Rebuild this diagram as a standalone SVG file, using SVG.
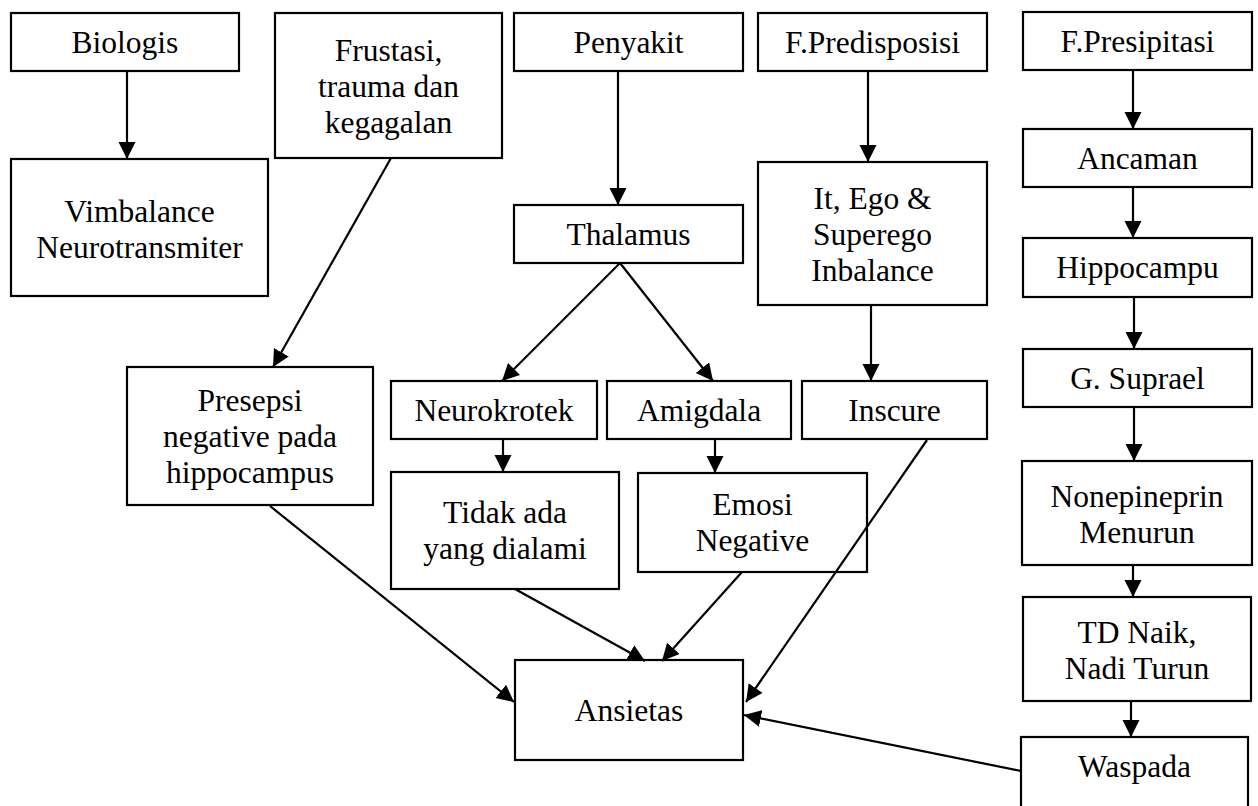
<svg xmlns="http://www.w3.org/2000/svg" width="1258" height="806" viewBox="0 0 1258 806">
<style>
rect{fill:#fff;stroke:#000;stroke-width:2.2}
text{font-family:"Liberation Serif","Times New Roman",serif;font-size:31.5px;fill:#000;text-anchor:middle}
.c line{stroke:#000;stroke-width:2.2;marker-end:url(#ah)}
</style>
<defs>
<marker id="ah" markerUnits="userSpaceOnUse" markerWidth="18" markerHeight="18" refX="17" refY="8.5" orient="auto"><path d="M0,0 L17,8.5 L0,17 z" fill="#000"/></marker>
</defs>
<g id="biologis"><rect x="11" y="13" width="228" height="58"/><text x="125" y="53">Biologis</text></g>
<g id="vimbalance"><rect x="11" y="159" width="257" height="137"/><text x="139.5" y="222">Vimbalance</text><text x="139.5" y="258">Neurotransmiter</text></g>
<g id="frustasi"><rect x="275" y="13" width="227" height="145"/><text x="388.5" y="61">Frustasi,</text><text x="388.5" y="97">trauma dan</text><text x="388.5" y="133">kegagalan</text></g>
<g id="presepsi"><rect x="127" y="367" width="246" height="138"/><text x="250" y="411">Presepsi</text><text x="250" y="447">negative pada</text><text x="250" y="483">hippocampus</text></g>
<g id="penyakit"><rect x="514" y="13" width="229" height="58"/><text x="628.5" y="53">Penyakit</text></g>
<g id="thalamus"><rect x="514" y="205" width="229" height="58"/><text x="628.5" y="245">Thalamus</text></g>
<g id="neurokrotek"><rect x="391" y="381" width="206" height="58"/><text x="494" y="421">Neurokrotek</text></g>
<g id="amigdala"><rect x="607" y="381" width="184" height="58"/><text x="699" y="421">Amigdala</text></g>
<g id="tidakada"><rect x="391" y="472" width="228" height="117"/><text x="505" y="523">Tidak ada</text><text x="505" y="559">yang dialami</text></g>
<g id="emosi"><rect x="638" y="473" width="229" height="99"/><text x="752.5" y="515">Emosi</text><text x="752.5" y="551">Negative</text></g>
<g id="predisposisi"><rect x="758" y="13" width="229" height="58"/><text x="872.5" y="53">F.Predisposisi</text></g>
<g id="itego"><rect x="758" y="162" width="229" height="143"/><text x="872.5" y="209">It, Ego &amp;</text><text x="872.5" y="245">Superego</text><text x="872.5" y="281">Inbalance</text></g>
<g id="inscure"><rect x="802" y="381" width="185" height="58"/><text x="894.5" y="421">Inscure</text></g>
<g id="ansietas"><rect x="515" y="660" width="228" height="100"/><text x="629" y="721">Ansietas</text></g>
<g id="presipitasi"><rect x="1023" y="12" width="229" height="58"/><text x="1137.5" y="52">F.Presipitasi</text></g>
<g id="ancaman"><rect x="1023" y="129" width="229" height="58"/><text x="1137.5" y="169">Ancaman</text></g>
<g id="hippocampu"><rect x="1023" y="238" width="229" height="59"/><text x="1137.5" y="278">Hippocampu</text></g>
<g id="suprael"><rect x="1023" y="349" width="229" height="58"/><text x="1137.5" y="389">G. Suprael</text></g>
<g id="nonepineprin"><rect x="1022" y="461" width="230" height="104"/><text x="1137" y="507">Nonepineprin</text><text x="1137" y="543">Menurun</text></g>
<g id="tdnaik"><rect x="1023" y="597" width="228" height="104"/><text x="1137" y="643">TD Naik,</text><text x="1137" y="679">Nadi Turun</text></g>
<g id="waspada"><rect x="1021" y="737" width="227" height="90"/><text x="1134.5" y="777">Waspada</text></g>
<g class="c" id="connectors">
<line x1="127" y1="71" x2="127" y2="159"/>
<line x1="391" y1="158" x2="273" y2="367"/>
<line x1="618" y1="71" x2="618" y2="205"/>
<line x1="620" y1="263" x2="502" y2="381"/>
<line x1="620" y1="263" x2="713" y2="381"/>
<line x1="868" y1="71" x2="868" y2="162"/>
<line x1="871" y1="305" x2="871" y2="381"/>
<line x1="503" y1="439" x2="503" y2="472"/>
<line x1="715" y1="439" x2="715" y2="473"/>
<line x1="270" y1="506" x2="514" y2="702"/>
<line x1="515" y1="589" x2="645" y2="661"/>
<line x1="742" y1="572" x2="662" y2="661"/>
<line x1="927" y1="440" x2="746" y2="702"/>
<line x1="1021" y1="771" x2="744" y2="715"/>
<line x1="1133" y1="70" x2="1133" y2="129"/>
<line x1="1133" y1="187" x2="1133" y2="238"/>
<line x1="1134" y1="297" x2="1134" y2="349"/>
<line x1="1134" y1="407" x2="1134" y2="461"/>
<line x1="1133" y1="565" x2="1133" y2="597"/>
<line x1="1131" y1="701" x2="1131" y2="737"/>
</g>
</svg>
